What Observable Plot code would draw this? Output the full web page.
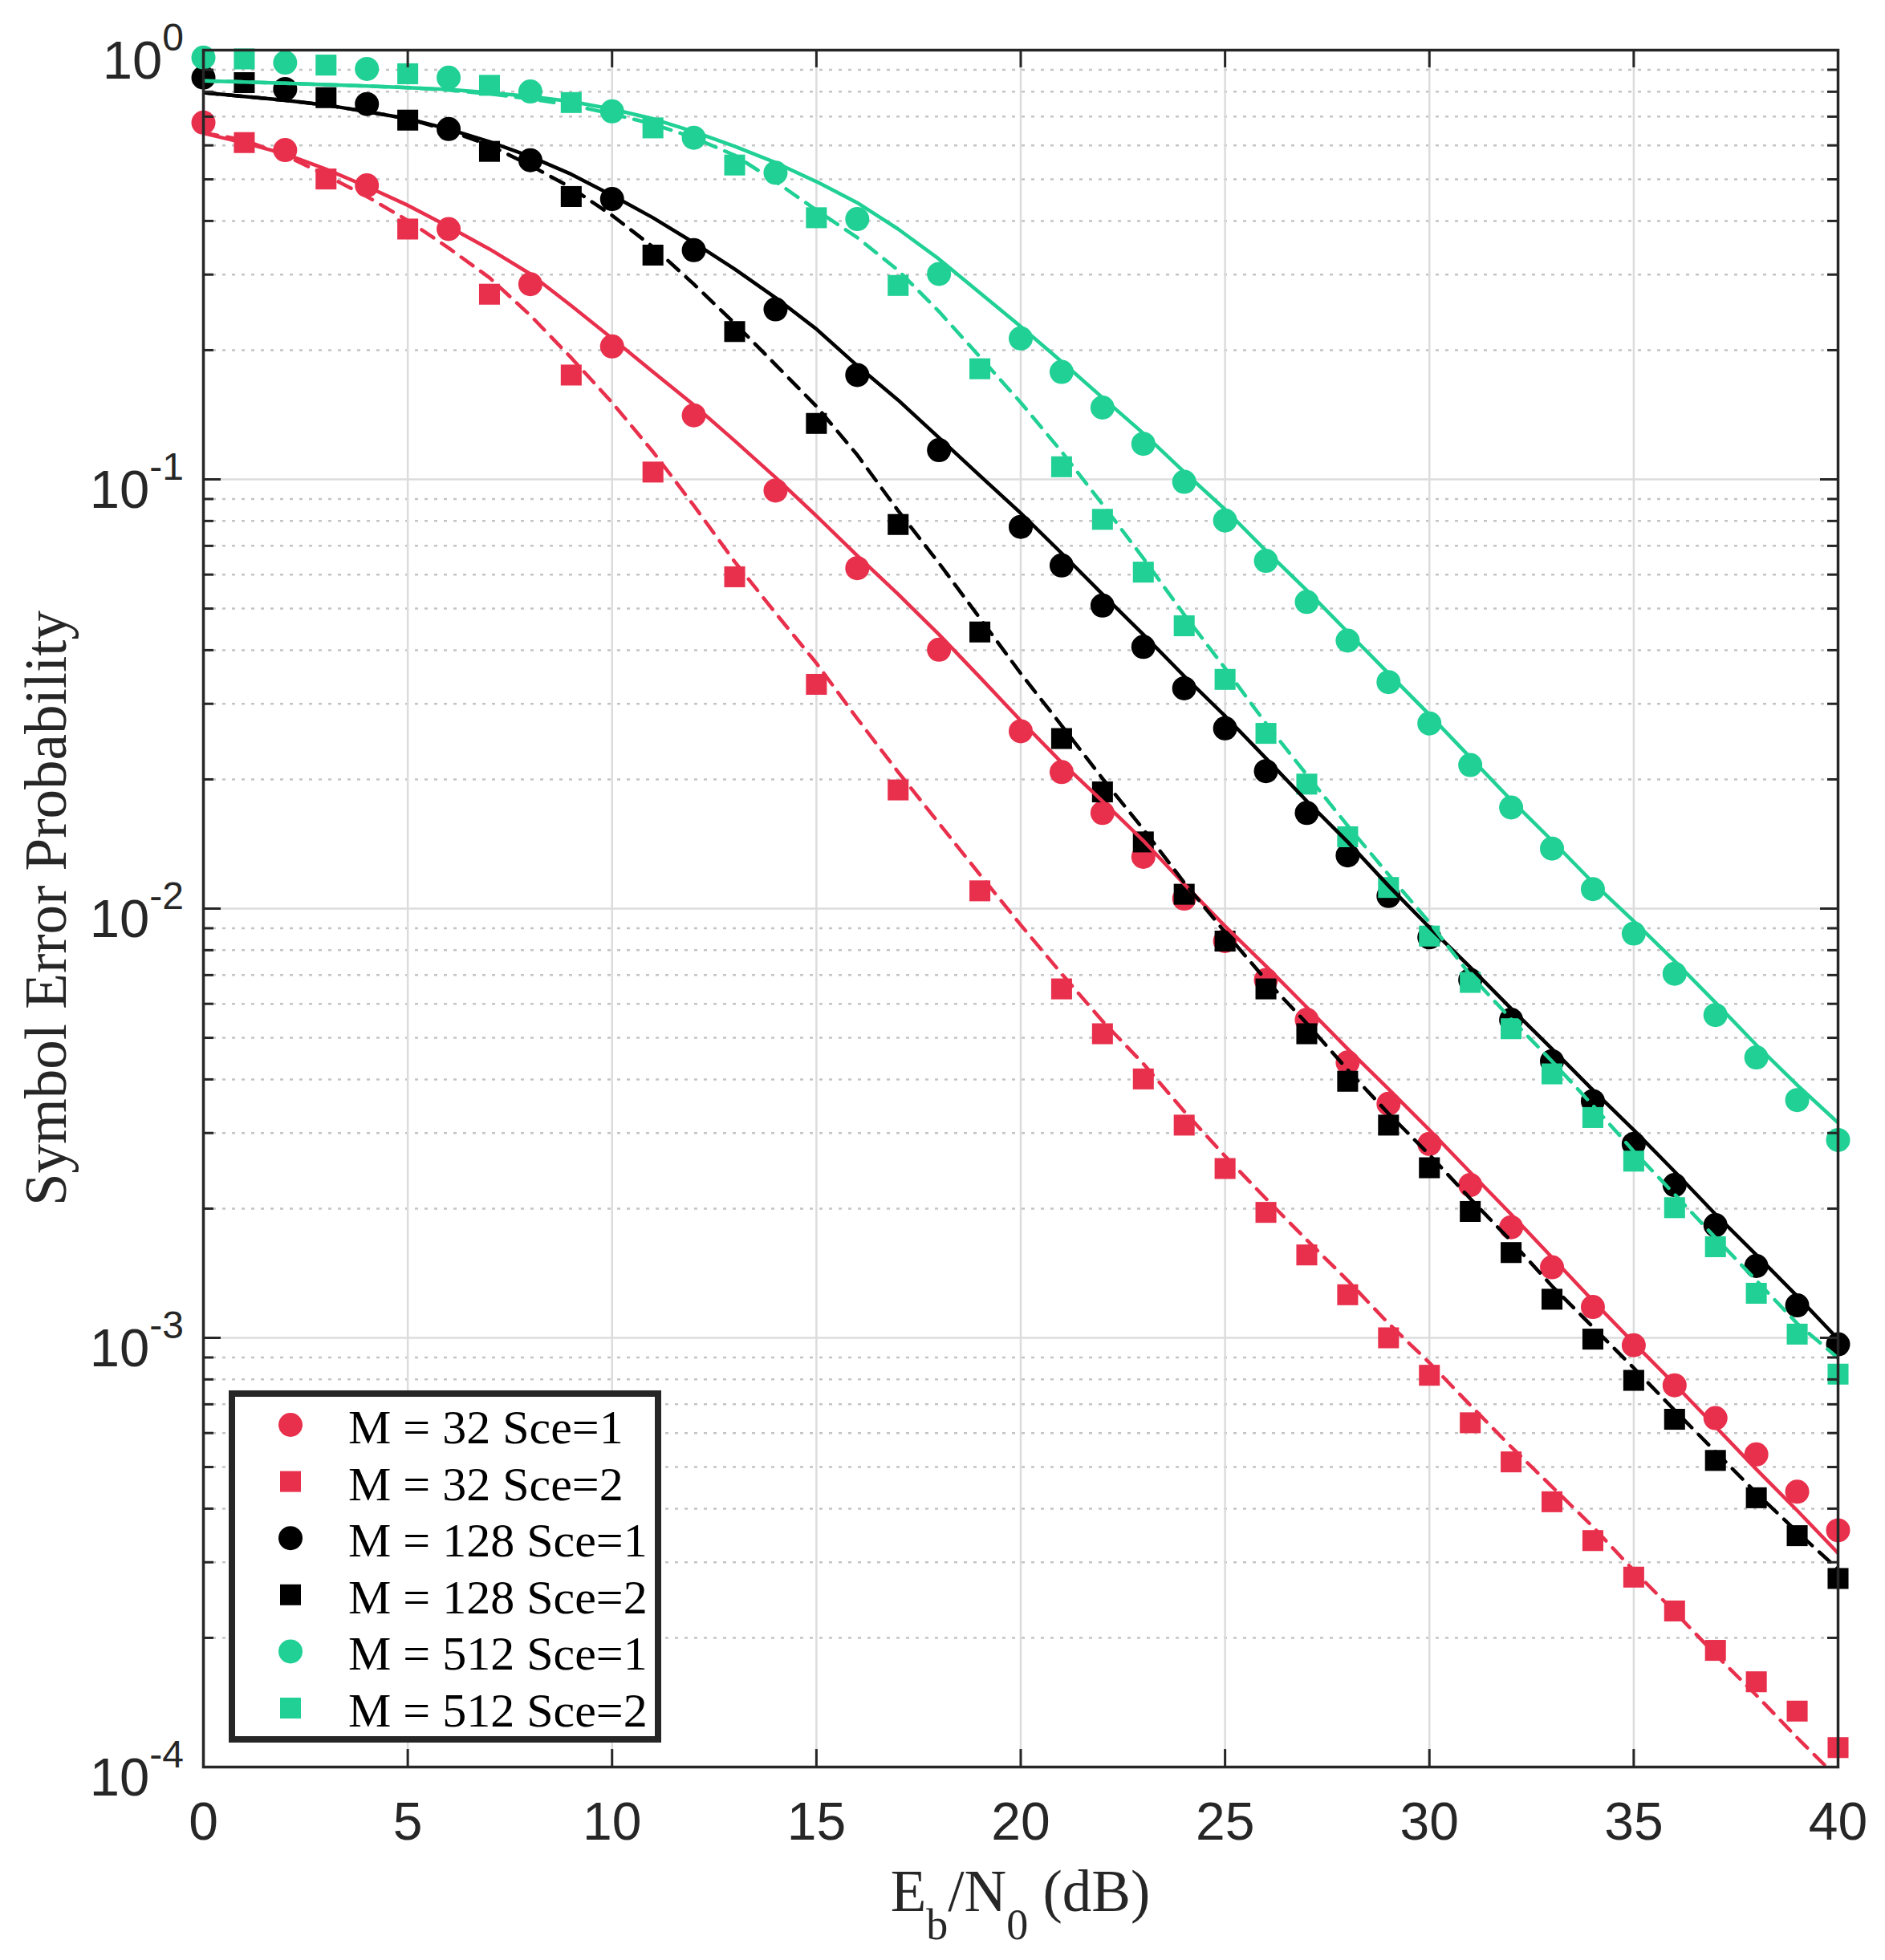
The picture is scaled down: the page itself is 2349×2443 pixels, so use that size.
<!DOCTYPE html>
<html>
<head>
<meta charset="utf-8">
<script src="https://cdn.jsdelivr.net/npm/d3@7"></script>
<script src="https://cdn.jsdelivr.net/npm/@observablehq/plot@0.6"></script>
<style>
  body { margin: 0; background: #fff; }
  #chart svg { display: block; }
</style>
</head>
<body>
<div id="chart"></div>
<script>
// Eb/N0 (dB) grids of the simulated points and of the analytic curves
const snrSce1 = [0, 2, 4, 6, 8, 10, 12, 14, 16, 18, 20, 21, 22, 23, 24, 25, 26, 27, 28, 29, 30, 31, 32, 33, 34, 35, 36, 37, 38, 39, 40]
const snrSce2 = [1, 3, 5, 7, 9, 11, 13, 15, 17, 19, 21, 22, 23, 24, 25, 26, 27, 28, 29, 30, 31, 32, 33, 34, 35, 36, 37, 38, 39, 40]
const snrLine = [0, 1, 2, 3, 4, 5, 6, 7, 8, 9, 10, 11, 12, 13, 14, 15, 16, 17, 18, 19, 20, 21, 22, 23, 24, 25, 26, 27, 28, 29, 30, 31, 32, 33, 34, 35, 36, 37, 38, 39, 40]

// simulated symbol error probability (markers)
const sim32s1 = [0.678, 0.585, 0.484, 0.383, 0.285, 0.204, 0.141, 0.0942, 0.0621, 0.0401, 0.0259, 0.0208, 0.0167, 0.0132, 0.01055, 0.0084, 0.00682, 0.00551, 0.00438, 0.00351, 0.00283, 0.00227, 0.00181, 0.00146, 0.00118, 0.000961, 0.000775, 0.00065, 0.000535, 0.000438, 0.000356]
const sim32s2 = [0.609, 0.501, 0.383, 0.27, 0.175, 0.104, 0.0593, 0.0333, 0.0189, 0.011, 0.0065, 0.00511, 0.00401, 0.00313, 0.00248, 0.00196, 0.00156, 0.00126, 0.001, 0.000818, 0.000634, 0.000514, 0.000415, 0.000337, 0.000277, 0.000231, 0.000187, 0.000158, 0.000135, 0.000111]
const sim128s1 = [0.863, 0.812, 0.749, 0.655, 0.554, 0.45, 0.342, 0.249, 0.175, 0.117, 0.0775, 0.063, 0.0508, 0.0407, 0.0326, 0.0263, 0.0209, 0.0167, 0.0133, 0.0107, 0.00857, 0.00682, 0.00551, 0.00441, 0.00356, 0.00283, 0.00227, 0.00183, 0.00147, 0.00119, 0.000966]
const sim128s2 = [0.84, 0.775, 0.687, 0.581, 0.456, 0.333, 0.221, 0.135, 0.0785, 0.0441, 0.0249, 0.0187, 0.0143, 0.0108, 0.0084, 0.0065, 0.00511, 0.00396, 0.00313, 0.00249, 0.00197, 0.00158, 0.00123, 0.000993, 0.000796, 0.000646, 0.000518, 0.000424, 0.000346, 0.000275]
const sim512s1 = [0.961, 0.935, 0.904, 0.863, 0.801, 0.72, 0.625, 0.518, 0.404, 0.301, 0.213, 0.178, 0.147, 0.121, 0.0987, 0.0802, 0.0646, 0.0518, 0.0421, 0.0337, 0.027, 0.0216, 0.0172, 0.0138, 0.0111, 0.00875, 0.00705, 0.00565, 0.0045, 0.00358, 0.00289]
const sim512s2 = [0.954, 0.923, 0.881, 0.828, 0.755, 0.659, 0.54, 0.407, 0.283, 0.181, 0.107, 0.0807, 0.0608, 0.0456, 0.0342, 0.0256, 0.0195, 0.0147, 0.0112, 0.00863, 0.00673, 0.00525, 0.00412, 0.00326, 0.00258, 0.00201, 0.00163, 0.00127, 0.00102, 0.000823]

// analytic curves (lines)
const ana32s1 = [0.64, 0.608, 0.573, 0.528, 0.481, 0.435, 0.388, 0.344, 0.301, 0.254, 0.213, 0.178, 0.149, 0.123, 0.101, 0.0822, 0.0664, 0.054, 0.0435, 0.0346, 0.0274, 0.0219, 0.0178, 0.0144, 0.0114, 0.0091, 0.00735, 0.00589, 0.00471, 0.0038, 0.00305, 0.00243, 0.00194, 0.00154, 0.00122, 0.000973, 0.00078, 0.000621, 0.000494, 0.000396, 0.000315]
const ana32s2 = [0.642, 0.617, 0.569, 0.511, 0.456, 0.401, 0.346, 0.295, 0.241, 0.192, 0.151, 0.116, 0.0869, 0.0643, 0.0488, 0.0373, 0.0277, 0.0208, 0.0158, 0.012, 0.00916, 0.00705, 0.00547, 0.00435, 0.00337, 0.00265, 0.00211, 0.00169, 0.00136, 0.00108, 0.000875, 0.000697, 0.000557, 0.00045, 0.000363, 0.000287, 0.00023, 0.000183, 0.000147, 0.000117, 0.0000941]
const ana128s1 = [0.796, 0.78, 0.764, 0.745, 0.719, 0.692, 0.655, 0.612, 0.565, 0.514, 0.459, 0.407, 0.356, 0.309, 0.265, 0.224, 0.184, 0.153, 0.125, 0.102, 0.0834, 0.0673, 0.054, 0.0435, 0.0348, 0.0281, 0.0224, 0.0178, 0.0143, 0.0113, 0.00904, 0.0073, 0.00585, 0.00471, 0.00378, 0.00305, 0.00244, 0.00194, 0.00156, 0.00125, 0.000993]
const ana128s2 = [0.796, 0.78, 0.764, 0.745, 0.719, 0.692, 0.65, 0.6, 0.539, 0.478, 0.412, 0.348, 0.285, 0.231, 0.185, 0.148, 0.114, 0.0845, 0.0638, 0.0475, 0.0353, 0.0267, 0.0201, 0.0153, 0.0115, 0.00881, 0.00682, 0.0054, 0.00421, 0.00333, 0.00267, 0.00211, 0.00168, 0.00132, 0.00106, 0.000851, 0.000678, 0.000543, 0.000435, 0.000353, 0.000289]
const ana512s1 = [0.848, 0.843, 0.837, 0.831, 0.825, 0.818, 0.81, 0.796, 0.78, 0.759, 0.729, 0.692, 0.646, 0.597, 0.547, 0.494, 0.441, 0.383, 0.326, 0.272, 0.227, 0.188, 0.155, 0.128, 0.104, 0.0851, 0.0682, 0.0551, 0.0441, 0.0353, 0.0283, 0.0225, 0.0179, 0.0144, 0.0115, 0.00935, 0.00755, 0.00604, 0.00481, 0.00388, 0.00317]
const ana512s2 = [0.848, 0.843, 0.837, 0.831, 0.825, 0.818, 0.807, 0.791, 0.77, 0.745, 0.71, 0.673, 0.625, 0.569, 0.494, 0.424, 0.366, 0.307, 0.246, 0.193, 0.151, 0.116, 0.0875, 0.0655, 0.0484, 0.0363, 0.027, 0.0205, 0.0156, 0.012, 0.00929, 0.007, 0.00553, 0.00441, 0.00348, 0.00272, 0.00216, 0.00171, 0.00136, 0.00108, 0.000897]

const legendLabels = ["M = 32 Sce=1", "M = 32 Sce=2", "M = 128 Sce=1", "M = 128 Sce=2", "M = 512 Sce=1", "M = 512 Sce=2"]
const xTicks = [0, 5, 10, 15, 20, 25, 30, 35, 40]
const decades = [1e-4, 1e-3, 1e-2, 1e-1, 1]
const decadeExp = ["-4", "-3", "-2", "-1", "0"]
const mantissas = [2, 3, 4, 5, 6, 7, 8, 9]

const red = "#e8304c", black = "#000000", green = "#20d095"
const axisColor = "#262626"

const series = [
  {label: legendLabels[0], color: red,   symbol: "circle", x: snrSce1, sim: sim32s1,  ana: ana32s1,  dash: null},
  {label: legendLabels[1], color: red,   symbol: "square", x: snrSce2, sim: sim32s2,  ana: ana32s2,  dash: "18,12"},
  {label: legendLabels[2], color: black, symbol: "circle", x: snrSce1, sim: sim128s1, ana: ana128s1, dash: null},
  {label: legendLabels[3], color: black, symbol: "square", x: snrSce2, sim: sim128s2, ana: ana128s2, dash: "18,12"},
  {label: legendLabels[4], color: green, symbol: "circle", x: snrSce1, sim: sim512s1, ana: ana512s1, dash: null},
  {label: legendLabels[5], color: green, symbol: "square", x: snrSce2, sim: sim512s2, ana: ana512s2, dash: "18,12"}
]

const minorTicks = decades.slice(0, 4).flatMap(d => mantissas.map(m => m * d))

const dotMarks = series.map(s => Plot.dot(s.sim.map((v, i) => ({x: s.x[i], y: v})), {
  x: "x", y: "y", fill: s.color, stroke: "none",
  symbol: s.symbol, r: s.symbol === "circle" ? 15 : 14.7
}))
const lineMarks = series.map(s => Plot.line(s.ana.map((v, i) => ({x: snrLine[i], y: v})), {
  x: "x", y: "y", stroke: s.color, strokeWidth: 4.5,
  strokeDasharray: s.dash, clip: true
}))

// inward tick lengths, expressed in data units (22 px major, 13 px minor)
const tkX = 0.432, tkXm = 0.255, tkY = 1.099

const chart = Plot.plot({
  width: 2349,
  height: 2443,
  marginLeft: 253,
  marginRight: 59,
  marginTop: 62,
  marginBottom: 241,
  style: {background: "#fff", fontFamily: "'Liberation Sans', Arial, sans-serif", fontSize: "66px", color: axisColor},
  x: {domain: [0, 40], label: null},
  y: {type: "log", domain: [1e-4, 1], axis: null, label: null},
  marks: [
    Plot.ruleY(minorTicks, {stroke: "#c4c4c4", strokeWidth: 2.5, strokeDasharray: "4,8"}),
    Plot.gridX(xTicks, {stroke: "#dcdcdc", strokeOpacity: 1, strokeWidth: 2.5}),
    Plot.gridY(decades, {stroke: "#dcdcdc", strokeOpacity: 1, strokeWidth: 2.5}),
    ...dotMarks,
    ...lineMarks,
    Plot.ruleY(decades, {x1: 0, x2: tkX, stroke: axisColor, strokeWidth: 3}),
    Plot.ruleY(decades, {x1: 40 - tkX, x2: 40, stroke: axisColor, strokeWidth: 3}),
    Plot.ruleY(minorTicks, {x1: 0, x2: tkXm, stroke: axisColor, strokeWidth: 3}),
    Plot.ruleY(minorTicks, {x1: 40 - tkXm, x2: 40, stroke: axisColor, strokeWidth: 3}),
    Plot.ruleX(xTicks, {y1: 1e-4, y2: 1e-4 * tkY, stroke: axisColor, strokeWidth: 3}),
    Plot.ruleX(xTicks, {y1: 1, y2: 1 / tkY, stroke: axisColor, strokeWidth: 3}),
    Plot.frame({stroke: axisColor, strokeWidth: 3.5}),
    Plot.axisX(xTicks, {tickSize: 0, tickPadding: 44, fontSize: 66, fill: axisColor, label: null})
  ]
})

const svg = d3.select(chart)
const ys = chart.scale("y")
const xs = chart.scale("x")
const serif = "'Liberation Serif', 'Times New Roman', serif"

// y tick labels: 10 with superscript exponent
decades.forEach((d, i) => {
  const t = svg.append("text")
    .attr("x", 229).attr("y", ys.apply(d) + 36)
    .attr("text-anchor", "end")
    .attr("fill", axisColor)
    .attr("font-family", "'Liberation Sans', Arial, sans-serif")
    .attr("font-size", 67)
  t.append("tspan").text("10")
  t.append("tspan").attr("dy", -35).attr("font-size", 48).text(decadeExp[i])
})

// x axis label with subscripts
const xl = svg.append("text")
  .attr("x", (xs.apply(0) + xs.apply(40)) / 2).attr("y", 2382)
  .attr("text-anchor", "middle")
  .attr("fill", axisColor)
  .attr("font-family", serif)
  .attr("font-size", 73)
xl.append("tspan").text("E")
xl.append("tspan").attr("dy", 35).attr("font-size", 54).text("b")
xl.append("tspan").attr("dy", -35).text("/N")
xl.append("tspan").attr("dy", 35).attr("font-size", 54).text("0")
xl.append("tspan").attr("dy", -35).text(" (dB)")

// y axis label
svg.append("text")
  .attr("transform", `translate(82,${(ys.apply(1) + ys.apply(1e-4)) / 2}) rotate(-90)`)
  .attr("text-anchor", "middle")
  .attr("fill", axisColor)
  .attr("font-family", serif)
  .attr("font-size", 73)
  .text("Symbol Error Probability")

// legend box, markers only
const lg = svg.append("g").attr("text-anchor", "start")
lg.append("rect")
  .attr("x", 289).attr("y", 1737).attr("width", 531).attr("height", 431)
  .attr("fill", "#fff").attr("stroke", axisColor).attr("stroke-width", 8)
series.forEach((s, i) => {
  const cy = 1776 + 70.6 * i
  if (s.symbol === "circle") {
    lg.append("circle").attr("cx", 362).attr("cy", cy).attr("r", 15).attr("fill", s.color)
  } else {
    lg.append("rect").attr("x", 349).attr("y", cy - 13).attr("width", 26).attr("height", 26).attr("fill", s.color)
  }
  lg.append("text")
    .attr("x", 434).attr("y", cy + 23)
    .attr("text-anchor", "start")
    .attr("font-family", serif).attr("font-size", 60).attr("fill", "#000")
    .text(s.label)
})

d3.select('#chart').append(() => chart)
</script>
</body>
</html>
